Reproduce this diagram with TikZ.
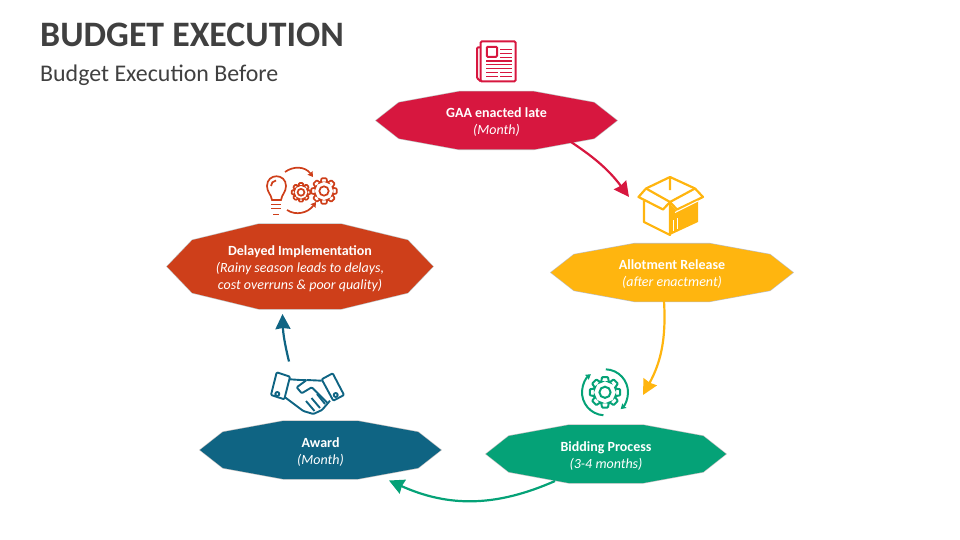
\documentclass[tikz,border=0pt]{standalone}
\usepackage{fontspec}
\setmainfont{Carlito}
\usetikzlibrary{arrows.meta,calc,positioning}

\definecolor{gaared}{HTML}{D7173F}
\definecolor{allotyellow}{HTML}{FFB50F}
\definecolor{bidgreen}{HTML}{05A277}
\definecolor{awardteal}{HTML}{0F6483}
\definecolor{delayorange}{HTML}{CE3F1A}
\definecolor{titlegray}{HTML}{404040}

\tikzset{
  octbox/.style n args={3}{
    rectangle, minimum width=2*#2 pt+3pt, minimum height=2*#3 pt+8pt,
    inner sep=0pt, align=center, text=white,
    font=\fontsize{14}{17}\selectfont,
    path picture={
      \fill[#1, x=#2 pt, y=#3 pt, preaction={draw=black!25, line width=1.2pt}]
        (path picture bounding box.center) ++(0,2pt)
        +(-1,0) -- +(-.81,.62) -- +(-.31,1) -- +(.31,1) -- +(.81,.62)
        -- +(1,0) -- +(.81,-.62) -- +(.31,-1) -- +(-.31,-1) -- +(-.81,-.62) -- cycle;
    }
  },
  cogicon/.pic={
    \draw[rounded corners=.8pt] (-20:.72)
      \foreach \a in {0,45,...,315} {
        -- (\a-20:.72) -- (\a-11:1) -- (\a+11:1) -- (\a+20:.72)
      } -- cycle;
    \draw (0,0) circle[radius=.36];
  }
}

\begin{document}
\begin{tikzpicture}[%
    x=1pt, y=-1pt,
    >={Stealth[inset=1pt, length=15pt, width=15pt]},
    on grid,
    flow/.style={->, line width=2.2pt},
    tiny tip/.style={-{Stealth[inset=.5pt, length=5pt, width=6pt]}},
  ]
    \useasboundingbox (0,0) rectangle (960,540);

    \node[anchor=west, inner sep=0pt, text=titlegray, font=\fontsize{35.8}{40}\selectfont\bfseries] (title) at (40,35) {BUDGET EXECUTION};
    \node[anchor=west, inner sep=0pt, text=titlegray, font=\fontsize{23.9}{26}\selectfont] (subtitle) at (40,75) {Budget Execution Before};

    \node[octbox={gaared}{120.5}{29}] (gaa) at (496.5,122.5) {\textbf{GAA enacted late}\\\textit{(Month)}};
    \node[octbox={allotyellow}{121}{29}] (allot) [below right=152pt and 175.5pt of gaa] {\textbf{Allotment Release}\\\textit{(after enactment)}};
    \node[octbox={bidgreen}{120}{29}] (bid) [below left=181.5pt and 66pt of allot] {\textbf{Bidding Process}\\\textit{(3-4 months)}};
    \node[octbox={awardteal}{120.5}{29}] (award) [above left=4pt and 285.5pt of bid] {\textbf{Award}\\\textit{(Month)}};
    \node[octbox={delayorange}{133}{42.5}] (delay) [above left=183.5pt and 20.5pt of award] {\textbf{Delayed Implementation}\\\textit{(Rainy season leads to delays,}\\\textit{cost overruns \& poor quality)}};

    \coordinate (gaaout) at ($(gaa)+(74.5,19.5)$);
    \coordinate (allotin) at (629,197);
    \coordinate (allotout) at ($(allot)+(-8,26.5)$);
    \coordinate (bidin) at (643,395);
    \coordinate (bidout) at ($(bid)+(-51,25)$);
    \coordinate (awardin) at ($(award)+(68.5,28.5)$);
    \coordinate (awardout) at (289,361.5);
    \coordinate (delayin) at ($(delay)+(-17.5,45.5)$);

    \path[flow] (gaaout) edge [bend left=10, draw=gaared] (allotin)
                (allotout) edge [bend left=16, draw=allotyellow] (bidin)
                (bidout) edge [bend left=24, draw=bidgreen] (awardin)
                (awardout) edge [bend left=6, draw=awardteal] (delayin);

    % newspaper
    \begin{scope}[draw=gaared, line width=2pt, rounded corners=1pt]
      \draw (480.7,41.5) rectangle (515.5,81.3);
      \draw (480.7,47.5) -- (477,47.5) -- (477,78) -- (480.7,81.3);
      \draw (486.8,46.8) rectangle (497,56.8);
    \end{scope}
    \draw[draw=gaared, line width=1.1pt]
      (500,49.3) -- (512,49.3) (500,53.3) -- (512,53.3) (500,57.3) -- (512,57.3)
      (486,64.3) -- (512,64.3) (486,68.3) -- (512,68.3)
      (486,72.7) -- (498,72.7) (500,72.7) -- (512,72.7)
      (486,76.7) -- (498,76.7) (500,76.7) -- (512,76.7);
    \draw[draw=gaared, line width=2pt] (486,61) -- (512,61);

    % box
    \fill[allotyellow] (677,211) -- (698,199) -- (698,222) -- (670,235) -- (670,204) -- cycle;
    \begin{scope}[draw=allotyellow, line width=2.2pt, line join=round]
      \draw (670,177) -- (646,188.5) -- (638.5,197) -- (663,209.5) -- (670,202) -- (677,209.5) -- (703,197) -- (695,188.5) -- cycle;
      \draw (646,188.5) -- (670,202) -- (695,188.5) (670,177) -- (670,190);
      \draw (644,201) -- (644,222) -- (670,235) -- (670,202);
    \end{scope}
    \draw[draw=white, line width=1pt] (675,212.5) -- (698,201);
    \draw[draw=white, line width=1pt] (673.5,220) -- (673.5,231) (677,218) -- (677,229);

    % bulb and gears
    \begin{scope}[draw=delayorange, line width=1.7pt]
      \draw (272,200) .. controls (271,194) and (267,192) .. (267,186) .. controls (267,173) and (286,173) .. (286,186) .. controls (286,192) and (282,194) .. (281,200) -- cycle;
      \draw (271,186) .. controls (271,183) and (273,181) .. (276,180.5);
      \draw (271,204.5) -- (281,204.5) (271,208.5) -- (281,208.5) (273,214.5) -- (279,214.5);
      \pic[scale=9.5] at (301,192.3) {cogicon};
      \pic[scale=13] at (324,191) {cogicon};
      \draw[tiny tip] (285,172) .. controls (293,166) and (305,166) .. (313,177);
      \draw[tiny tip] (287,210) .. controls (296,216) and (308,213) .. (316,202);
    \end{scope}

    % cycle around a gear
    \begin{scope}[draw=bidgreen, line width=2pt]
      \pic[scale=15.5] at (605,392.3) {cogicon};
      \draw[tiny tip] (605,392.3) ++(-88:23) arc[start angle=-88, end angle=47, radius=23];
      \draw[tiny tip] (605,392.3) ++(94:23) arc[start angle=94, end angle=232, radius=23];
    \end{scope}

    % handshake
    \begin{scope}[draw=awardteal, line width=1.9pt, line join=round, rounded corners=1pt]
      \draw (276.7,372.3) -- (290,376.7) -- (284.3,399.3) -- (271,395) -- cycle;
      \draw (321.7,379.3) -- (332.7,373.3) -- (344,395) -- (333.3,400.7) -- cycle;
      \draw (290,379.3) -- (300,380) -- (306.7,380) -- (296.7,387.3) -- (301.7,393.3) -- (311.7,387.3) -- (327.3,402.7);
      \draw (306.7,380) -- (321.7,380.7);
      \draw (285,397.3) -- (303.3,411) -- (313.3,414) -- (322,410) -- (330,400.7);
      \draw (311.5,398) -- (320,408) (306,401) -- (314.5,411) (317,394) -- (325,404);
      \draw (277.3,394) circle[radius=2] (335.7,395) circle[radius=2];
    \end{scope}
  \end{tikzpicture}
\end{document}
